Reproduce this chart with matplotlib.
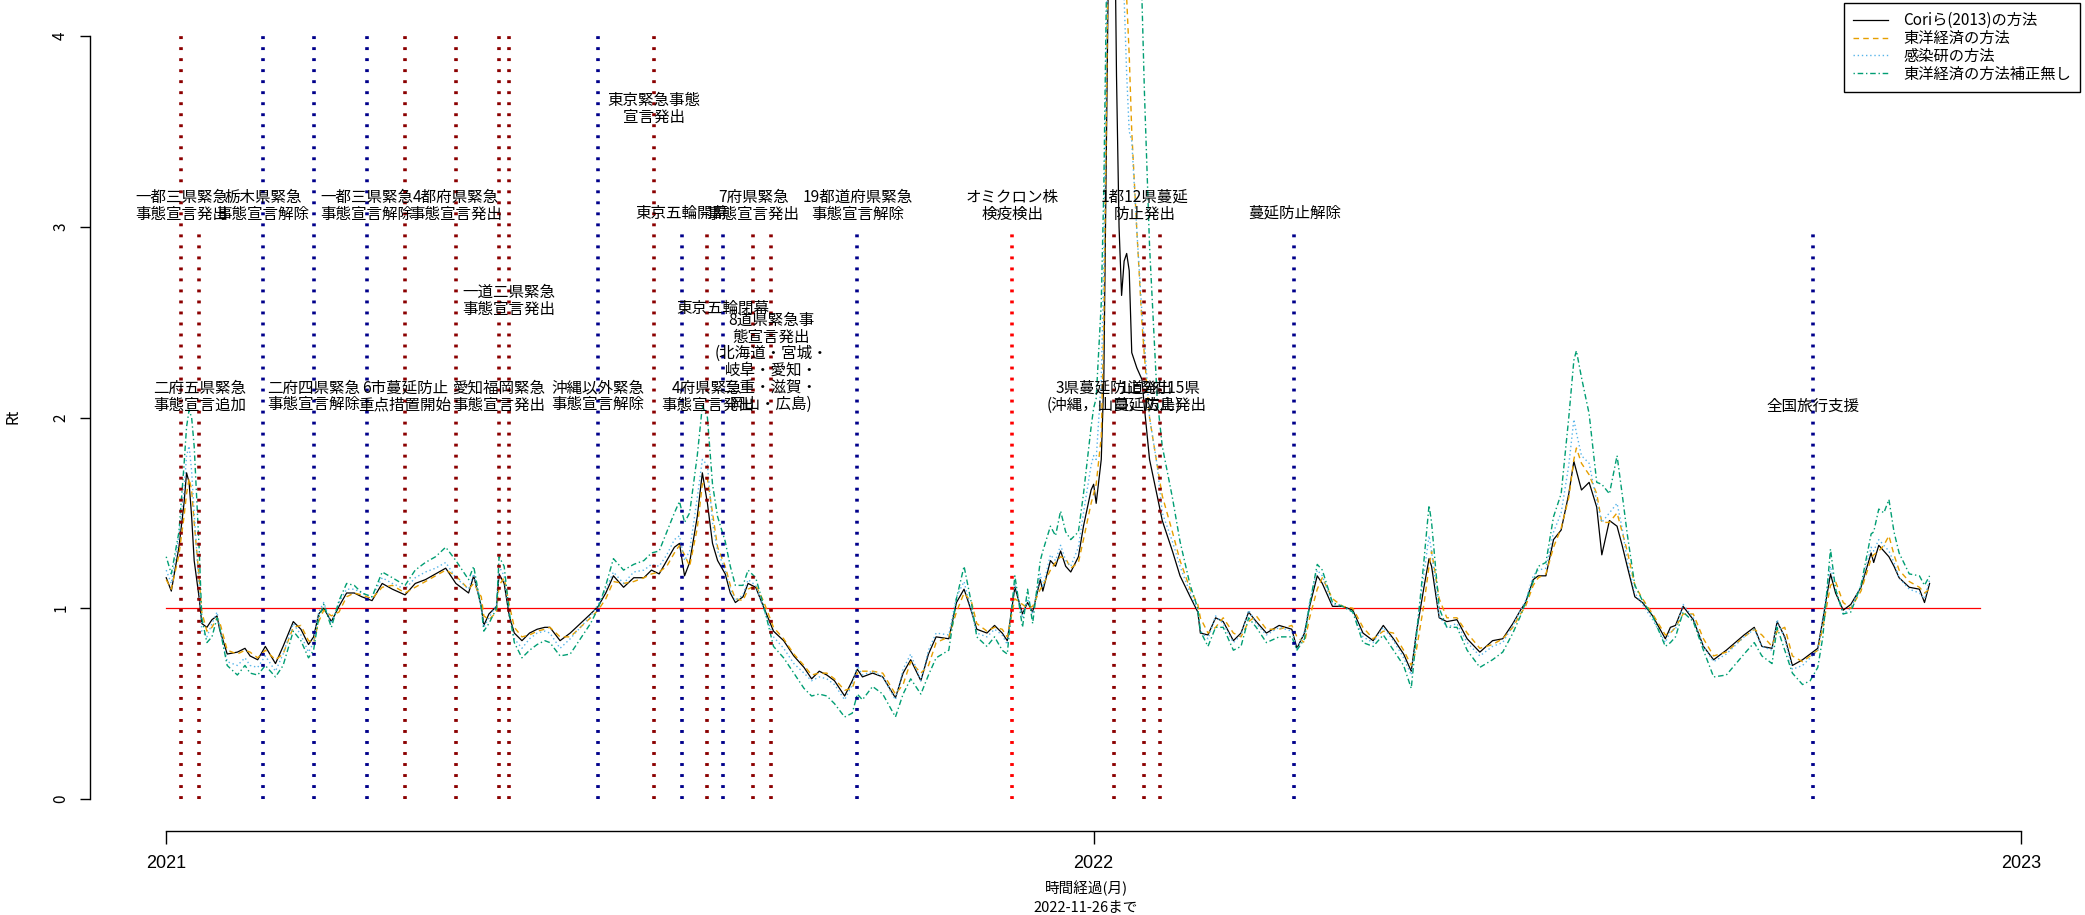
import numpy as np
import matplotlib
matplotlib.use("Agg")
import matplotlib.pyplot as plt
import matplotlib.dates as mdates

plt.rcParams['font.family'] = ['Noto Sans CJK JP', 'DejaVu Sans']

START = np.datetime64('2021-01-01')

# days since 2021-01-01
days = [0, 2, 5, 7, 8, 9, 10, 11, 13, 14,
        16, 18, 20, 21, 24, 28, 31, 33, 36, 39,
        43, 46, 50, 53, 56, 58, 60, 62, 65, 68,
        71, 74, 77, 81, 85, 89, 94, 98, 102, 106,
        110, 114, 119, 121, 124, 125, 127, 130, 131, 133,
        135, 137, 140, 143, 146, 149, 151, 155, 159, 163,
        167, 170, 173, 176, 180, 184, 188, 191, 194, 197,
        200, 202, 204, 206, 209, 211, 213, 215, 217, 220,
        222, 224, 227, 229, 232, 235, 239, 243, 247, 251,
        254, 257, 260, 263, 267, 270, 272, 274, 278, 282,
        287, 290, 293, 297, 300, 303, 308, 311, 314, 317,
        319, 323, 326, 329, 331, 334, 337, 339, 341, 344,
        345, 348, 350, 352, 354, 356, 359, 361, 364, 365,
        366, 368, 369, 370, 371, 373, 374, 375, 376, 377,
        378, 379, 380, 382, 384, 385, 387, 390, 392, 396,
        399, 403, 406, 407, 410, 413, 416, 420, 423, 426,
        429, 433, 438, 443, 445, 448, 450, 453, 455, 459,
        463, 467, 471, 475, 479, 483, 487, 490, 492, 495,
        497, 498, 501, 504, 508, 512, 517, 522, 526, 530,
        533, 535, 538, 540, 543, 546, 549, 552, 554, 555,
        557, 560, 563, 565, 568, 571, 573, 575, 578, 581,
        585, 590, 592, 594, 597, 601, 605, 609, 614, 621,
        625, 628, 632, 634, 637, 640, 644, 647, 650, 652,
        655, 657, 660, 663, 667, 671, 672, 674, 676, 678,
        680, 682, 686, 690, 692, 694]

cori = [1.16, 1.09, 1.32, 1.55, 1.71, 1.66, 1.48, 1.25, 1.05, 0.92,
        0.90, 0.94, 0.96, 0.89, 0.76, 0.77, 0.79, 0.75, 0.73, 0.80,
        0.71, 0.80, 0.93, 0.89, 0.81, 0.85, 0.97, 1.00, 0.93, 1.01,
        1.08, 1.08, 1.06, 1.04, 1.13, 1.10, 1.07, 1.13, 1.15, 1.18,
        1.21, 1.13, 1.08, 1.17, 1.01, 0.91, 0.97, 1.01, 1.18, 1.13,
        0.96, 0.87, 0.83, 0.87, 0.89, 0.90, 0.90, 0.83, 0.87, 0.92,
        0.97, 1.01, 1.08, 1.17, 1.11, 1.16, 1.16, 1.20, 1.18, 1.25,
        1.32, 1.34, 1.17, 1.24, 1.48, 1.71, 1.55, 1.34, 1.25, 1.18,
        1.08, 1.03, 1.06, 1.13, 1.11, 1.01, 0.88, 0.83, 0.75, 0.69,
        0.63, 0.67, 0.65, 0.62, 0.54, 0.62, 0.68, 0.64, 0.66, 0.64,
        0.53, 0.66, 0.73, 0.62, 0.76, 0.85, 0.84, 1.03, 1.10, 0.98,
        0.89, 0.87, 0.91, 0.87, 0.83, 1.11, 0.97, 1.03, 0.98, 1.15,
        1.09, 1.25, 1.22, 1.30, 1.22, 1.19, 1.27, 1.43, 1.62, 1.65,
        1.55, 1.78, 2.20, 3.40, 4.60, 5.00, 3.79, 3.00, 2.64, 2.82,
        2.86, 2.77, 2.34, 2.26, 2.20, 2.05, 1.78, 1.59, 1.46, 1.30,
        1.17, 1.06, 0.98, 0.87, 0.86, 0.95, 0.93, 0.83, 0.87, 0.98,
        0.93, 0.87, 0.91, 0.89, 0.79, 0.87, 1.01, 1.17, 1.13, 1.01,
        1.01, 0.99, 0.87, 0.83, 0.91, 0.84, 0.76, 0.67, 0.87, 1.11,
        1.26, 1.22, 0.95, 0.93, 0.94, 0.84, 0.77, 0.83, 0.84, 0.92,
        0.99, 1.03, 1.15, 1.17, 1.17, 1.36, 1.41, 1.60, 1.77, 1.72,
        1.62, 1.66, 1.53, 1.28, 1.46, 1.43, 1.33, 1.22, 1.06, 1.03,
        0.96, 0.84, 0.90, 0.91, 1.01, 0.94, 0.80, 0.73, 0.78, 0.86,
        0.90, 0.80, 0.79, 0.93, 0.85, 0.70, 0.73, 0.76, 0.79, 0.94,
        1.18, 1.08, 0.99, 1.02, 1.11, 1.29, 1.24, 1.33, 1.30, 1.27,
        1.22, 1.16, 1.11, 1.10, 1.03, 1.13]

toyo = [1.15, 1.10, 1.28, 1.48, 1.60, 1.68, 1.62, 1.45, 1.15, 0.98,
        0.88, 0.90, 0.95, 0.93, 0.78, 0.76, 0.78, 0.77, 0.74, 0.78,
        0.73, 0.76, 0.90, 0.91, 0.83, 0.82, 0.93, 0.99, 0.96, 0.98,
        1.06, 1.08, 1.07, 1.05, 1.11, 1.12, 1.08, 1.11, 1.14, 1.17,
        1.20, 1.17, 1.10, 1.13, 1.06, 0.96, 0.94, 0.98, 1.12, 1.16,
        1.02, 0.90, 0.85, 0.86, 0.88, 0.89, 0.90, 0.85, 0.85, 0.90,
        0.95, 0.99, 1.05, 1.14, 1.13, 1.14, 1.16, 1.18, 1.19, 1.22,
        1.29, 1.33, 1.28, 1.22, 1.42, 1.65, 1.68, 1.50, 1.32, 1.22,
        1.12, 1.05, 1.04, 1.10, 1.12, 1.04, 0.90, 0.84, 0.76, 0.70,
        0.65, 0.66, 0.66, 0.63, 0.57, 0.58, 0.66, 0.67, 0.67, 0.66,
        0.55, 0.60, 0.72, 0.66, 0.70, 0.82, 0.85, 0.98, 1.08, 1.03,
        0.92, 0.88, 0.90, 0.89, 0.85, 1.05, 1.02, 1.00, 1.01, 1.10,
        1.12, 1.20, 1.24, 1.27, 1.26, 1.21, 1.24, 1.36, 1.55, 1.60,
        1.65, 1.90, 2.50, 3.60, 4.80, 5.20, 5.00, 4.80, 4.60, 4.40,
        4.20, 3.90, 3.50, 2.98, 2.50, 2.32, 2.00, 1.75, 1.59, 1.40,
        1.25, 1.10, 1.02, 0.95, 0.87, 0.90, 0.95, 0.87, 0.85, 0.93,
        0.96, 0.89, 0.89, 0.91, 0.85, 0.82, 0.95, 1.10, 1.16, 1.05,
        1.01, 1.00, 0.90, 0.84, 0.88, 0.87, 0.78, 0.70, 0.78, 1.02,
        1.22, 1.30, 1.05, 0.95, 0.95, 0.87, 0.79, 0.81, 0.84, 0.90,
        0.97, 1.01, 1.12, 1.16, 1.18, 1.32, 1.42, 1.58, 1.78, 1.84,
        1.76, 1.70, 1.60, 1.45, 1.45, 1.50, 1.40, 1.30, 1.12, 1.05,
        0.97, 0.86, 0.87, 0.90, 0.97, 0.97, 0.84, 0.75, 0.77, 0.85,
        0.89, 0.86, 0.80, 0.88, 0.90, 0.75, 0.72, 0.75, 0.78, 0.90,
        1.12, 1.14, 1.03, 1.00, 1.09, 1.26, 1.28, 1.30, 1.33, 1.38,
        1.28, 1.20, 1.14, 1.11, 1.08, 1.10]

niid = [1.20, 1.13, 1.38, 1.62, 1.80, 1.85, 1.72, 1.50, 1.10, 0.88,
        0.85, 0.92, 0.98, 0.90, 0.72, 0.70, 0.74, 0.70, 0.69, 0.75,
        0.67, 0.76, 0.92, 0.86, 0.77, 0.82, 0.98, 1.03, 0.92, 1.03,
        1.10, 1.10, 1.08, 1.06, 1.16, 1.13, 1.10, 1.16, 1.19, 1.21,
        1.24, 1.16, 1.10, 1.18, 1.00, 0.90, 0.95, 1.02, 1.22, 1.17,
        0.96, 0.84, 0.79, 0.84, 0.87, 0.88, 0.87, 0.79, 0.84, 0.90,
        0.96, 1.02, 1.10, 1.19, 1.13, 1.19, 1.20, 1.23, 1.22, 1.28,
        1.36, 1.38, 1.25, 1.30, 1.58, 1.78, 1.75, 1.45, 1.30, 1.20,
        1.10, 1.04, 1.07, 1.15, 1.12, 1.00, 0.85, 0.79, 0.71, 0.66,
        0.62, 0.64, 0.63, 0.60, 0.52, 0.60, 0.70, 0.65, 0.67, 0.64,
        0.52, 0.68, 0.76, 0.62, 0.78, 0.87, 0.86, 1.06, 1.14, 0.98,
        0.87, 0.85, 0.89, 0.86, 0.81, 1.13, 0.95, 1.05, 0.97, 1.18,
        1.11, 1.28, 1.25, 1.33, 1.25, 1.22, 1.32, 1.50, 1.75, 1.80,
        1.78, 2.20, 2.80, 3.90, 5.00, 5.50, 5.30, 5.00, 4.70, 4.20,
        3.80, 3.50, 3.45, 2.98, 2.55, 2.40, 2.00, 1.75, 1.50, 1.35,
        1.22, 1.08, 0.99, 0.88, 0.84, 0.96, 0.92, 0.82, 0.86, 0.99,
        0.92, 0.86, 0.90, 0.88, 0.78, 0.88, 1.03, 1.20, 1.17, 1.02,
        1.01, 0.98, 0.85, 0.82, 0.90, 0.83, 0.74, 0.65, 0.88, 1.18,
        1.38, 1.30, 0.96, 0.90, 0.92, 0.82, 0.75, 0.80, 0.82, 0.91,
        0.99, 1.04, 1.17, 1.20, 1.21, 1.40, 1.50, 1.75, 1.99, 1.92,
        1.80, 1.76, 1.56, 1.45, 1.50, 1.55, 1.42, 1.25, 1.08, 1.02,
        0.94, 0.82, 0.88, 0.89, 1.02, 0.95, 0.80, 0.72, 0.76, 0.85,
        0.89, 0.80, 0.78, 0.94, 0.84, 0.68, 0.70, 0.74, 0.78, 0.95,
        1.22, 1.10, 0.97, 1.00, 1.12, 1.32, 1.30, 1.36, 1.33, 1.30,
        1.24, 1.16, 1.10, 1.08, 1.05, 1.15]

toyo_raw = [1.27, 1.18, 1.40, 1.75, 1.95, 2.04, 2.00, 1.85, 1.30, 0.95,
            0.82, 0.85, 0.95, 0.90, 0.70, 0.65, 0.70, 0.66, 0.65, 0.70,
            0.64, 0.70, 0.88, 0.83, 0.74, 0.78, 0.95, 1.02, 0.90, 1.04,
            1.13, 1.12, 1.08, 1.06, 1.19, 1.16, 1.12, 1.20, 1.24, 1.27,
            1.32, 1.25, 1.15, 1.22, 1.00, 0.88, 0.92, 1.00, 1.27, 1.22,
            0.98, 0.82, 0.74, 0.78, 0.81, 0.83, 0.82, 0.75, 0.76, 0.84,
            0.92, 1.00, 1.12, 1.26, 1.20, 1.23, 1.25, 1.29, 1.30, 1.40,
            1.50, 1.56, 1.45, 1.50, 1.80, 2.06, 2.00, 1.65, 1.48, 1.35,
            1.22, 1.12, 1.12, 1.20, 1.16, 1.02, 0.80, 0.74, 0.66, 0.58,
            0.54, 0.55, 0.54, 0.50, 0.43, 0.45, 0.55, 0.52, 0.59, 0.55,
            0.43, 0.55, 0.63, 0.55, 0.65, 0.74, 0.78, 1.05, 1.22, 1.02,
            0.85, 0.80, 0.85, 0.78, 0.76, 1.17, 0.90, 1.10, 0.92, 1.25,
            1.30, 1.43, 1.38, 1.51, 1.40, 1.36, 1.40, 1.60, 1.95, 2.05,
            2.10, 2.60, 3.20, 4.20, 5.20, 5.80, 5.80, 5.80, 5.80, 5.60,
            5.40, 5.20, 5.00, 4.60, 4.20, 3.70, 2.90, 2.10, 1.85, 1.58,
            1.35, 1.12, 1.00, 0.88, 0.80, 0.90, 0.90, 0.78, 0.80, 0.95,
            0.90, 0.82, 0.85, 0.85, 0.78, 0.84, 1.02, 1.23, 1.20, 1.03,
            1.01, 0.98, 0.82, 0.80, 0.86, 0.78, 0.70, 0.58, 0.85, 1.25,
            1.54, 1.45, 1.00, 0.90, 0.90, 0.78, 0.69, 0.73, 0.77, 0.87,
            0.96, 1.03, 1.14, 1.22, 1.24, 1.48, 1.60, 2.00, 2.30, 2.35,
            2.21, 2.02, 1.66, 1.65, 1.60, 1.80, 1.60, 1.39, 1.12, 1.04,
            0.96, 0.80, 0.82, 0.85, 0.98, 0.93, 0.78, 0.64, 0.65, 0.76,
            0.82, 0.75, 0.71, 0.90, 0.78, 0.66, 0.60, 0.62, 0.69, 0.85,
            1.31, 1.10, 0.97, 0.98, 1.12, 1.39, 1.40, 1.52, 1.50, 1.57,
            1.40, 1.29, 1.18, 1.17, 1.12, 1.17]

series_names = ['Coriら(2013)の方法', '東洋経済の方法', '感染研の方法', '東洋経済の方法補正無し']

# events: date, label, line colour, top of the line, label height
event_dates = ['2021-01-07', '2021-01-14', '2021-02-08', '2021-02-28', '2021-03-21',
               '2021-04-05', '2021-04-25', '2021-05-12', '2021-05-16', '2021-06-20',
               '2021-07-12', '2021-07-23', '2021-08-02', '2021-08-08', '2021-08-20',
               '2021-08-27', '2021-09-30', '2021-11-30', '2022-01-09', '2022-01-21',
               '2022-01-27', '2022-03-21', '2022-10-11']
event_labels = ['一都三県緊急\n事態宣言発出', '二府五県緊急\n事態宣言追加', '栃木県緊急\n事態宣言解除',
                '二府四県緊急\n事態宣言解除', '一都三県緊急\n事態宣言解除', '6市蔓延防止\n重点措置開始',
                '4都府県緊急\n事態宣言発出', '愛知福岡緊急\n事態宣言発出', '一道二県緊急\n事態宣言発出',
                '沖縄以外緊急\n事態宣言解除', '東京緊急事態\n宣言発出', '東京五輪開幕',
                '4府県緊急\n事態宣言発出', '東京五輪閉幕', '7府県緊急\n事態宣言発出',
                '8道県緊急事\n態宣言発出\n(北海道・宮城・\n岐阜・愛知・\n三重・滋賀・\n岡山・広島)',
                '19都道府県緊急\n事態宣言解除', 'オミクロン株\n検疫検出', '3県蔓延防止発出\n(沖縄，山口，広島)',
                '1都12県蔓延\n防止発出', '1道2府15県\n蔓延防止発出', '蔓延防止解除', '全国旅行支援']
event_colors = ['darkred', 'darkred', 'darkblue', 'darkblue', 'darkblue',
                'darkred', 'darkred', 'darkred', 'darkred', 'darkblue',
                'darkred', 'darkblue', 'darkred', 'darkblue', 'darkred',
                'darkred', 'darkblue', 'red', 'darkred', 'darkred',
                'darkred', 'darkblue', 'darkblue']
event_tops = [4, 3, 4, 4, 4, 4, 4, 4, 4, 4, 4, 3, 3, 3, 3, 3, 3, 3, 3, 3, 3, 3, 3]
label_y = [3.11, 2.11, 3.11, 2.11, 3.11, 2.11, 3.11, 2.11, 2.61, 2.11, 3.62, 3.07,
           2.11, 2.57, 3.11, 2.29, 3.11, 3.11, 2.11, 3.11, 2.11, 3.07, 2.06]

W, H = 2085, 915
fig = plt.figure(figsize=(W / 100, H / 100), dpi=100)
ax = fig.add_axes([90 / W, 1 - 831 / H, (2080 - 90) / W, 831 / H])

x = START + np.array(days).astype('timedelta64[D]')
x0 = mdates.date2num(START)

styles = [dict(color='black', lw=0.9, ls='-'),
          dict(color='#E69F00', lw=1.0, ls=(0, (4, 3))),
          dict(color='#56B4E9', lw=1.0, ls=(0, (1, 2))),
          dict(color='#009E73', lw=1.0, ls=(0, (1, 2, 4, 2)))]
for vals, name, st in zip([cori, toyo, niid, toyo_raw], series_names, styles):
    ax.plot(x, vals, label=name, zorder=3, **st)

ax.plot([START, START + np.timedelta64(714, 'D')], [1, 1], color='red', lw=0.9, zorder=2)

for d, lab, c, top, ly in zip(event_dates, event_labels, event_colors, event_tops, label_y):
    dd = np.datetime64(d)
    ax.plot([dd, dd], [0, top], color=c, lw=2.6, ls=(0, (0.8, 2.25)), zorder=4)
    ax.text(dd, ly, lab, ha='center', va='center', fontsize=11.2, linespacing=0.98,
            multialignment='center', zorder=5)

ax.set_xlim(x0 - 30.0, x0 + 753.2)
ax.set_ylim((799 - 831) / 190.75, 799 / 190.75)

for s in ['top', 'right']:
    ax.spines[s].set_visible(False)
ax.spines['left'].set_bounds(0, 4)
ax.spines['bottom'].set_bounds(x0, x0 + 730)
ax.spines['left'].set_linewidth(1.0)
ax.spines['bottom'].set_linewidth(1.0)

ax.set_yticks([0, 1, 2, 3, 4])
ax.set_yticklabels(['0', '1', '2', '3', '4'], rotation=90, va='center', fontsize=11)
ax.tick_params(axis='y', length=7, width=1.0, pad=8)
ax.set_xticks([x0, x0 + 365, x0 + 730])
ax.set_xticklabels(['2021', '2022', '2023'], fontsize=13, family='Liberation Sans')
ax.tick_params(axis='x', length=9, width=1.0, pad=8)

fig.text(13 / W, 1 - 416 / H, 'Rt', rotation=90, ha='center', va='center', fontsize=11)
fig.text(1086 / W, 1 - 888 / H, '時間経過(月)', ha='center', va='center', fontsize=10.5)
fig.text(1086 / W, 1 - 908 / H, '2022-11-26まで', ha='center', va='center', fontsize=10.5)

leg = ax.legend(loc='upper right', bbox_to_anchor=(2080 / W, 1 - 3 / H),
                bbox_transform=fig.transFigure, fontsize=11, frameon=True, fancybox=False,
                edgecolor='black', framealpha=1, borderaxespad=0, handlelength=2.3,
                labelspacing=0.05, borderpad=0.6, handletextpad=1.0)
leg.get_frame().set_linewidth(1.0)

fig.savefig('out.png', dpi=100)
